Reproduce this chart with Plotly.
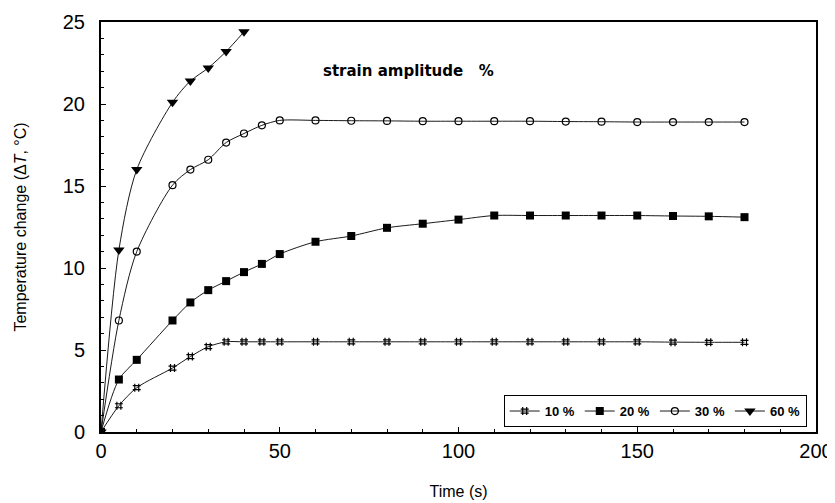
import plotly.graph_objects as go

# Time (s)
t_10 = [0, 5, 10, 20, 25, 30, 35, 40, 45, 50, 60, 70, 80, 90, 100, 110, 120, 130, 140, 150, 160, 170, 180]
t_20 = [0, 5, 10, 20, 25, 30, 35, 40, 45, 50, 60, 70, 80, 90, 100, 110, 120, 130, 140, 150, 160, 170, 180]
t_30 = [0, 5, 10, 20, 25, 30, 35, 40, 45, 50, 60, 70, 80, 90, 100, 110, 120, 130, 140, 150, 160, 170, 180]
t_60 = [0, 5, 10, 20, 25, 30, 35, 40]

# Temperature change (°C)
dT_10 = [0, 1.6, 2.7, 3.9, 4.6, 5.2, 5.5, 5.5, 5.5, 5.5, 5.5, 5.5, 5.5, 5.5, 5.5, 5.5, 5.5, 5.5, 5.5, 5.5, 5.48, 5.47, 5.47]
dT_20 = [0, 3.2, 4.4, 6.8, 7.9, 8.65, 9.2, 9.75, 10.25, 10.85, 11.6, 11.95, 12.45, 12.7, 12.95, 13.2, 13.2, 13.2, 13.2, 13.2, 13.17, 13.15, 13.1]
dT_30 = [0, 6.8, 11.0, 15.05, 16.0, 16.6, 17.65, 18.2, 18.7, 19.0, 19.0, 18.98, 18.97, 18.95, 18.95, 18.95, 18.95, 18.93, 18.92, 18.9, 18.9, 18.9, 18.9]
dT_60 = [0, 11.1, 16.0, 20.1, 21.4, 22.2, 23.2, 24.4]

series_names = ["10 %", "20 %", "30 %", "60 %"]
font_family = "Liberation Sans, Arial, sans-serif"

fig = go.Figure()

specs = [
    (t_10, dT_10, series_names[0], dict(symbol="hash-open", size=8, color="black", line=dict(color="black", width=1.2))),
    (t_20, dT_20, series_names[1], dict(symbol="square", size=8, color="black", line=dict(color="black", width=0))),
    (t_30, dT_30, series_names[2], dict(symbol="circle-open", size=7, color="black", line=dict(color="black", width=1.2))),
    (t_60, dT_60, series_names[3], dict(symbol="triangle-down", size=10, color="black", line=dict(color="black", width=0))),
]
for x, y, name, marker in specs:
    fig.add_trace(go.Scatter(
        x=x, y=y, name=name, mode="lines+markers",
        line=dict(color="black", width=0.9, shape="spline", smoothing=0.8),
        marker=marker,
    ))

fig.add_annotation(
    x=86, y=22.0, xref="x", yref="y", showarrow=False,
    text="<b>strain amplitude   %</b>",
    font=dict(family="DejaVu Sans, sans-serif", size=15, color="black"),
)

# the page body has an 8px margin, so the figure is sized to fit the 835x503 window
fig.update_layout(
    width=827, height=495,
    margin=dict(l=93, r=19, t=14, b=71),
    paper_bgcolor="white", plot_bgcolor="white",
    font=dict(family=font_family, color="black"),
    showlegend=True,
    legend=dict(
        orientation="h", x=0.987, y=0.012, xanchor="right", yanchor="bottom",
        bgcolor="white", bordercolor="black", borderwidth=1,
        font=dict(family=font_family, size=13, color="black", weight="bold"),
        itemwidth=30, tracegroupgap=0,
    ),
)

fig.update_xaxes(
    range=[0, 200], tickvals=[0, 50, 100, 150, 200],
    showgrid=False, zeroline=False, automargin=False,
    showline=True, linecolor="black", linewidth=2, mirror=True,
    ticks="inside", ticklen=5, tickcolor="black",
    minor=dict(dtick=10, ticks="inside", ticklen=3, tickcolor="black"),
    tickfont=dict(size=20, family=font_family),
    title=dict(text="Time (s)", font=dict(size=16, family=font_family), standoff=25),
)
fig.update_yaxes(
    range=[0, 25], tickvals=[0, 5, 10, 15, 20, 25],
    showgrid=False, zeroline=False, automargin=False,
    showline=True, linecolor="black", linewidth=2, mirror=True,
    ticks="inside", ticklen=5, tickcolor="black",
    minor=dict(dtick=1, ticks="inside", ticklen=3, tickcolor="black"),
    tickfont=dict(size=20, family=font_family),
    ticklabelstandoff=10,
    title=dict(text="Temperature change (Δ<i>T</i>, °C)", font=dict(size=16, family=font_family), standoff=32),
)

fig.write_html("out.html")
